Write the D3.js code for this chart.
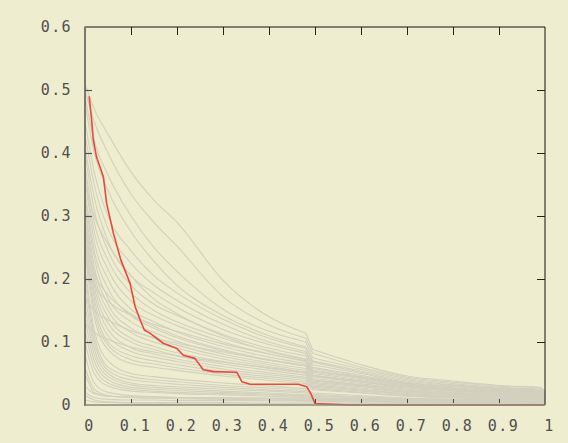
<!DOCTYPE html>
<html>
<head>
<meta charset="utf-8">
<script src="https://cdn.jsdelivr.net/npm/d3@7"></script>
<style>
  html, body { margin: 0; padding: 0; background: #efedcf; }
  svg { display: block; }
  text { font-family: "DejaVu Sans Mono", monospace; font-size: 15px; fill: #505050; letter-spacing: 1.4px; }
</style>
</head>
<body>
<svg id="chart" width="568" height="443"></svg>
<script>
// x positions shared by every background run
const gridX = [0, 0.02, 0.05, 0.1, 0.15, 0.2, 0.3, 0.4, 0.48, 0.495, 0.6, 0.7, 0.8, 0.9, 0.99, 1];
// index in gridX where the runs drop sharply
const stepAt = 9;

// background runs (grey), one array of y values per run on gridX
const greyRuns = [
  [0.51, 0.47, 0.43, 0.37, 0.325, 0.29, 0.198, 0.14, 0.114, 0.088, 0.064, 0.046, 0.038, 0.031, 0.028, 0.020],
  [0.50, 0.45, 0.40, 0.335, 0.29, 0.252, 0.172, 0.127, 0.106, 0.082, 0.060, 0.044, 0.036, 0.030, 0.027, 0.020],
  [0.49, 0.42, 0.365, 0.30, 0.25, 0.212, 0.152, 0.117, 0.100, 0.075, 0.057, 0.042, 0.034, 0.028, 0.025, 0.018],
  [0.48, 0.40, 0.34, 0.275, 0.228, 0.19, 0.142, 0.110, 0.092, 0.070, 0.054, 0.040, 0.032, 0.027, 0.024, 0.017],
  [0.45, 0.37, 0.30, 0.245, 0.205, 0.178, 0.136, 0.106, 0.090, 0.068, 0.052, 0.038, 0.031, 0.026, 0.023, 0.016],
  [0.43, 0.35, 0.28, 0.225, 0.19, 0.166, 0.128, 0.100, 0.085, 0.064, 0.050, 0.036, 0.030, 0.025, 0.022, 0.015],
  [0.41, 0.33, 0.26, 0.205, 0.178, 0.155, 0.120, 0.096, 0.082, 0.060, 0.047, 0.035, 0.029, 0.024, 0.021, 0.014],
  [0.40, 0.31, 0.245, 0.19, 0.16, 0.142, 0.112, 0.090, 0.078, 0.058, 0.045, 0.034, 0.027, 0.023, 0.020, 0.013],
  [0.38, 0.29, 0.23, 0.178, 0.15, 0.132, 0.106, 0.086, 0.073, 0.055, 0.043, 0.032, 0.026, 0.022, 0.019, 0.012],
  [0.37, 0.275, 0.215, 0.165, 0.142, 0.126, 0.100, 0.081, 0.069, 0.050, 0.040, 0.030, 0.024, 0.020, 0.018, 0.011],
  [0.36, 0.26, 0.20, 0.152, 0.132, 0.116, 0.093, 0.076, 0.066, 0.047, 0.038, 0.028, 0.023, 0.019, 0.017, 0.010],
  [0.34, 0.245, 0.185, 0.142, 0.122, 0.107, 0.086, 0.071, 0.062, 0.045, 0.036, 0.027, 0.022, 0.018, 0.016, 0.010],
  [0.33, 0.235, 0.17, 0.132, 0.115, 0.101, 0.081, 0.067, 0.058, 0.042, 0.034, 0.025, 0.020, 0.017, 0.015, 0.009],
  [0.32, 0.22, 0.16, 0.122, 0.106, 0.095, 0.077, 0.064, 0.055, 0.040, 0.032, 0.024, 0.019, 0.016, 0.014, 0.008],
  [0.31, 0.21, 0.15, 0.115, 0.100, 0.090, 0.073, 0.061, 0.052, 0.038, 0.030, 0.022, 0.018, 0.015, 0.013, 0.008],
  [0.30, 0.20, 0.14, 0.106, 0.093, 0.083, 0.069, 0.058, 0.050, 0.036, 0.029, 0.021, 0.017, 0.014, 0.012, 0.007],
  [0.29, 0.19, 0.13, 0.100, 0.088, 0.078, 0.065, 0.055, 0.047, 0.034, 0.027, 0.020, 0.016, 0.013, 0.011, 0.006],
  [0.28, 0.18, 0.12, 0.091, 0.081, 0.073, 0.061, 0.051, 0.044, 0.032, 0.025, 0.018, 0.015, 0.012, 0.010, 0.006],
  [0.27, 0.17, 0.11, 0.085, 0.076, 0.069, 0.057, 0.048, 0.042, 0.030, 0.024, 0.017, 0.014, 0.011, 0.009, 0.005],
  [0.26, 0.16, 0.10, 0.078, 0.070, 0.064, 0.053, 0.045, 0.039, 0.028, 0.022, 0.016, 0.013, 0.010, 0.009, 0.005],
  [0.25, 0.15, 0.095, 0.072, 0.065, 0.059, 0.049, 0.042, 0.036, 0.026, 0.020, 0.015, 0.012, 0.010, 0.008, 0.004],
  [0.24, 0.14, 0.088, 0.066, 0.060, 0.055, 0.046, 0.039, 0.034, 0.024, 0.019, 0.014, 0.011, 0.009, 0.008, 0.004],
  [0.22, 0.12, 0.07, 0.050, 0.045, 0.041, 0.035, 0.030, 0.026, 0.019, 0.015, 0.011, 0.009, 0.007, 0.006, 0.003],
  [0.21, 0.11, 0.06, 0.045, 0.040, 0.037, 0.031, 0.027, 0.023, 0.017, 0.013, 0.010, 0.008, 0.006, 0.005, 0.003],
  [0.20, 0.10, 0.055, 0.040, 0.036, 0.033, 0.028, 0.024, 0.021, 0.015, 0.012, 0.009, 0.007, 0.006, 0.005, 0.002],
  [0.18, 0.09, 0.05, 0.035, 0.031, 0.029, 0.025, 0.022, 0.019, 0.014, 0.011, 0.008, 0.006, 0.005, 0.004, 0.002],
  [0.16, 0.08, 0.045, 0.032, 0.028, 0.026, 0.022, 0.019, 0.016, 0.012, 0.009, 0.007, 0.005, 0.004, 0.004, 0.002],
  [0.14, 0.07, 0.04, 0.028, 0.025, 0.023, 0.020, 0.017, 0.015, 0.011, 0.008, 0.006, 0.005, 0.004, 0.003, 0.001],
  [0.12, 0.06, 0.035, 0.025, 0.022, 0.020, 0.018, 0.016, 0.013, 0.010, 0.008, 0.006, 0.004, 0.003, 0.003, 0.001],
  [0.10, 0.05, 0.03, 0.022, 0.020, 0.018, 0.016, 0.014, 0.012, 0.009, 0.007, 0.005, 0.004, 0.003, 0.002, 0.001],
  [0.23, 0.19, 0.165, 0.142, 0.128, 0.117, 0.097, 0.081, 0.070, 0.052, 0.042, 0.031, 0.025, 0.021, 0.018, 0.012],
  [0.17, 0.15, 0.135, 0.118, 0.107, 0.098, 0.084, 0.071, 0.062, 0.046, 0.037, 0.028, 0.023, 0.019, 0.017, 0.011],
  [0.13, 0.115, 0.104, 0.092, 0.084, 0.078, 0.068, 0.059, 0.052, 0.039, 0.032, 0.024, 0.020, 0.016, 0.014, 0.009],
  [0.26, 0.21, 0.175, 0.145, 0.125, 0.110, 0.088, 0.072, 0.063, 0.047, 0.038, 0.029, 0.024, 0.020, 0.018, 0.011],
  [0.35, 0.30, 0.255, 0.205, 0.168, 0.145, 0.110, 0.085, 0.072, 0.054, 0.044, 0.033, 0.027, 0.022, 0.020, 0.013],
  [0.08, 0.035, 0.02, 0.015, 0.013, 0.012, 0.011, 0.010, 0.009, 0.007, 0.006, 0.005, 0.004, 0.003, 0.003, 0.001],
  [0.06, 0.025, 0.015, 0.012, 0.011, 0.010, 0.009, 0.008, 0.007, 0.006, 0.005, 0.004, 0.003, 0.002, 0.002, 0.001],
  [0.05, 0.02, 0.014, 0.012, 0.011, 0.011, 0.010, 0.010, 0.009, 0.008, 0.008, 0.007, 0.006, 0.006, 0.005, 0.002],
  [0.03, 0.018, 0.014, 0.013, 0.013, 0.012, 0.012, 0.011, 0.011, 0.010, 0.010, 0.009, 0.009, 0.008, 0.008, 0.003],
  [0.02, 0.012, 0.009, 0.008, 0.008, 0.007, 0.007, 0.007, 0.006, 0.006, 0.006, 0.005, 0.005, 0.005, 0.004, 0.002],
  [0.015, 0.008, 0.005, 0.004, 0.004, 0.004, 0.004, 0.003, 0.003, 0.003, 0.003, 0.003, 0.003, 0.002, 0.002, 0.001],
  [0.008, 0.005, 0.004, 0.003, 0.003, 0.002, 0.002, 0.002, 0.002, 0.002, 0.002, 0.002, 0.001, 0.001, 0.001, 0.000]
];

// highlighted run (red)
const redX = [0.009, 0.0145, 0.018, 0.025, 0.040, 0.047, 0.062, 0.078, 0.098, 0.109, 0.12, 0.129, 0.141, 0.170, 0.199, 0.214, 0.239, 0.257, 0.279, 0.330, 0.341, 0.359, 0.464, 0.482, 0.491, 0.500, 0.576, 1];
const redY = [0.490, 0.452, 0.421, 0.394, 0.362, 0.320, 0.272, 0.230, 0.193, 0.156, 0.135, 0.119, 0.114, 0.098, 0.090, 0.079, 0.074, 0.056, 0.053, 0.052, 0.037, 0.033, 0.033, 0.029, 0.018, 0.0025, 0, 0];

// tick values and their labels
const xTicks = [0, 0.1, 0.2, 0.3, 0.4, 0.5, 0.6, 0.7, 0.8, 0.9, 1];
const xTickLabels = ["0", "0.1", "0.2", "0.3", "0.4", "0.5", "0.6", "0.7", "0.8", "0.9", "1"];
const yTicks = [0, 0.1, 0.2, 0.3, 0.4, 0.5, 0.6];
const yTickLabels = ["0", "0.1", "0.2", "0.3", "0.4", "0.5", "0.6"];

const svg = d3.select("#chart");
const margin = { left: 85, top: 27, right: 23, bottom: 38 };
const W = 568 - margin.left - margin.right;
const H = 443 - margin.top - margin.bottom;

const x = d3.scaleLinear().domain([0, 1]).range([0, W]);
const y = d3.scaleLinear().domain([0, 0.6]).range([H, 0]);

const g = svg.append("g").attr("transform", `translate(${margin.left},${margin.top})`);

const smooth = d3.line().x(d => x(d[0])).y(d => y(d[1])).curve(d3.curveMonotoneX);
const straight = d3.line().x(d => x(d[0])).y(d => y(d[1]));

// a run is smooth on each side of the drop, joined by a straight segment
function runPath(ys) {
  const pts = ys.map((v, i) => [gridX[i], v]);
  const before = smooth(pts.slice(0, stepAt));
  const after = smooth(pts.slice(stepAt));
  return before + "L" + after.slice(1);
}

// grey runs
g.append("g")
  .selectAll("path")
  .data(greyRuns)
  .join("path")
  .attr("d", runPath)
  .attr("fill", "none")
  .attr("stroke", "#d2d0be")
  .attr("stroke-width", 1.1);

// highlighted run
g.append("path")
  .attr("d", straight(redX.map((v, i) => [v, redY[i]])))
  .attr("fill", "none")
  .attr("stroke", "#e8493c")
  .attr("stroke-width", 1.6)
  .attr("stroke-linejoin", "round");

// frame: top and right in black, left and bottom in grey
g.append("line").attr("x1", 0).attr("x2", W).attr("y1", 0).attr("y2", 0)
  .attr("stroke", "#111").attr("stroke-width", 1);
g.append("line").attr("x1", W).attr("x2", W).attr("y1", 0).attr("y2", H)
  .attr("stroke", "#111").attr("stroke-width", 1);
g.append("line").attr("x1", 0).attr("x2", 0).attr("y1", -0.5).attr("y2", H + 1)
  .attr("stroke", "#7a7a6c").attr("stroke-width", 2);
g.append("line").attr("x1", 0).attr("x2", W).attr("y1", H).attr("y2", H)
  .attr("stroke", "#8a897b").attr("stroke-width", 1.5);

// y axis ticks (inward) and labels
const yAxis = d3.axisLeft(y).tickValues(yTicks).tickSize(-7)
  .tickFormat((d, i) => yTickLabels[i]).tickPadding(13);
const ya = g.append("g").call(yAxis);
ya.select(".domain").remove();
ya.selectAll(".tick line").attr("stroke", "#555").attr("stroke-width", 1.2);
ya.selectAll(".tick").filter(d => d === 0 || d === 0.6).select("line").remove();

// right-side ticks
const yRight = d3.axisRight(y).tickValues(yTicks.filter(d => d > 0 && d < 0.6)).tickSize(-8).tickFormat("");
const yr = g.append("g").attr("transform", `translate(${W},0)`).call(yRight);
yr.select(".domain").remove();
yr.selectAll(".tick line").attr("stroke", "#222");

// top ticks
const xTop = d3.axisTop(x).tickValues(xTicks.filter(d => d > 0 && d < 1)).tickSize(-8).tickFormat("");
const xt = g.append("g").call(xTop);
xt.select(".domain").remove();
xt.selectAll(".tick line").attr("stroke", "#222");

// bottom ticks (short, inward) with labels
const xAxis = d3.axisBottom(x).tickValues(xTicks).tickSize(-4)
  .tickFormat((d, i) => xTickLabels[i]).tickPadding(15);
const xa = g.append("g").attr("transform", `translate(0,${H})`).call(xAxis);
xa.select(".domain").remove();
xa.selectAll(".tick line").attr("stroke", "#444").attr("transform", "translate(0,-2)");
xa.selectAll(".tick").filter(d => d === 0 || d === 1).select("line").remove();
xa.selectAll(".tick text").attr("dx", "4px");

svg.selectAll("text").attr("font-family", null).attr("font-size", null).attr("fill", null);
</script>
</body>
</html>
